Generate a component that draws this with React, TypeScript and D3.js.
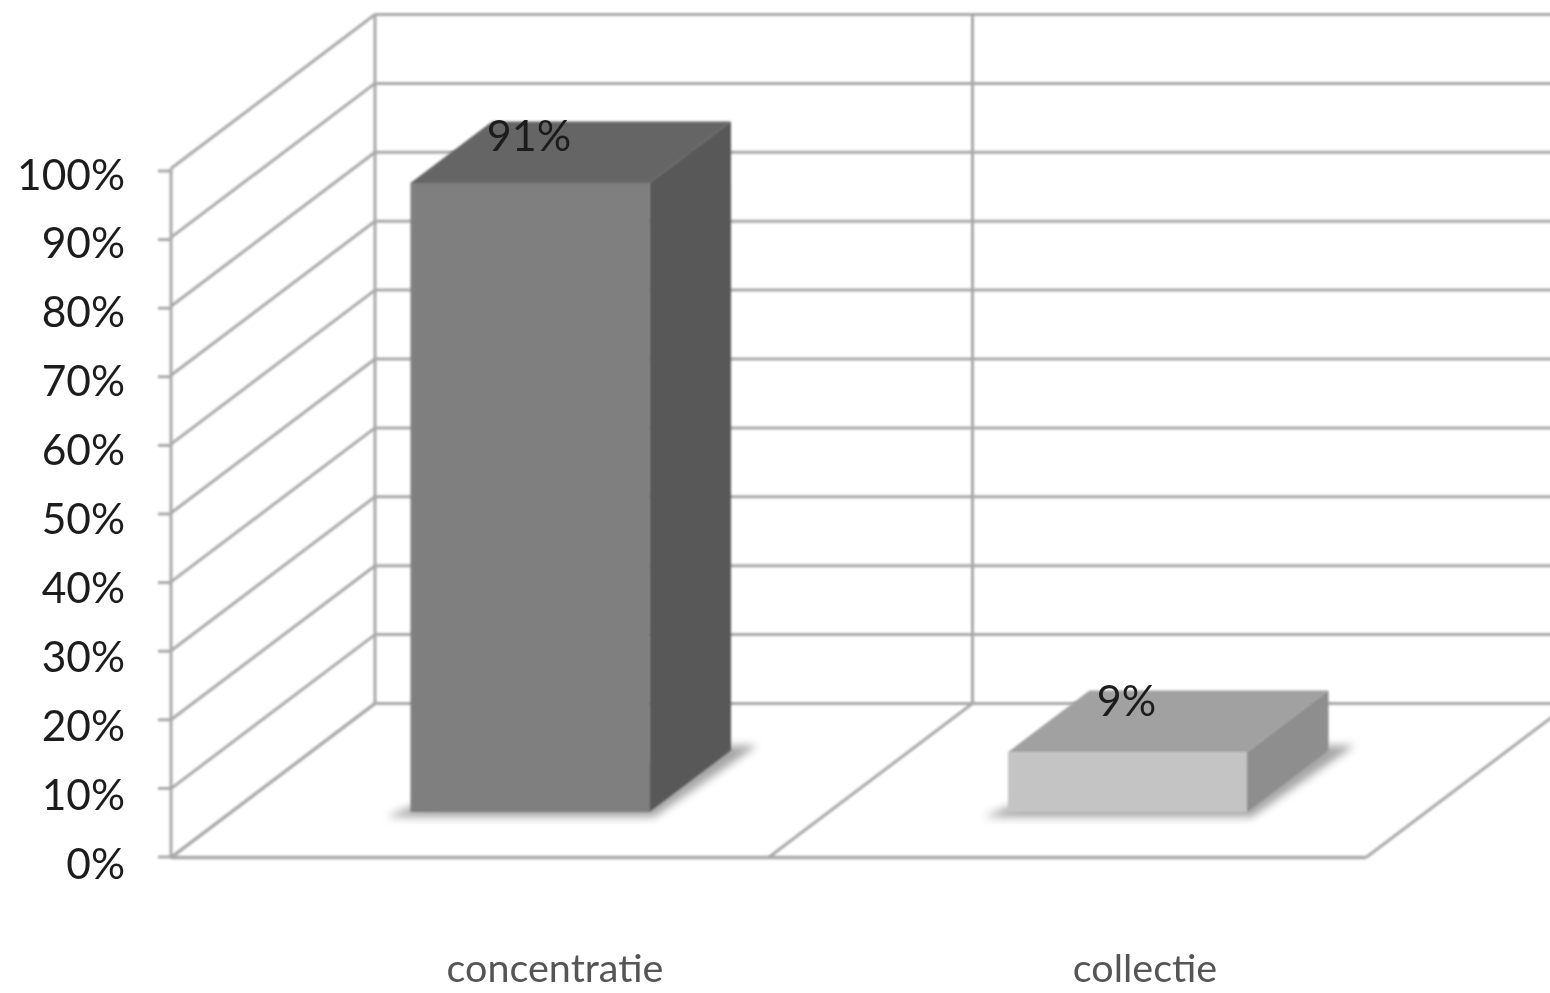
import React from "react";
import * as d3 from "d3";

const categories = ["concentratie", "collectie"];
const shares = [0.913, 0.087];
const frontColors = ["#7f7f7f", "#c4c4c4"];
const topColors = ["#656565", "#a1a1a1"];
const sideColors = ["#595959", "#8e8e8e"];
const yTicks = [0, 0.1, 0.2, 0.3, 0.4, 0.5, 0.6, 0.7, 0.8, 0.9, 1];

const W = 1550, H = 993;
const y = d3.scaleLinear().domain([0, 1]).range([857.5, 168.5]);
const tickY = d3.scaleLinear().domain([0, 1]).range([857, 171]);
const x = d3.scaleBand<string>().domain(categories).range([171, 1366]).paddingInner(0.6).paddingOuter(0.3);
const depthX = d3.scaleLinear().domain([0, 1]).range([0, 204]);
const depthY = d3.scaleLinear().domain([0, 1]).range([0, -154]);
const catLabelX = d3.scalePoint<string>().domain(categories).range([555, 1145]);
const labelY = d3.scaleLinear().domain([0.087, 0.913]).range([716, 151]);
const pct = d3.format(".0%");
const line = d3.line();
const GRID = "#a9a9a9";

// project (front-plane x, value, depth) to the screen
const P = (px: number, v: number, d: number): [number, number] => [px + depthX(d), y(v) + depthY(d)];
const poly = (pts: [number, number][]) => line(pts) + "Z";

const BAR_D0 = 0.295, BAR_D1 = 0.695;
const FONT = "Lato, 'Open Sans', sans-serif";

export default function App() {
  const floorXs = [171, 171 + x.step(), 1366];
  const backXs = [171, 171 + x.step()];
  const bw = x.bandwidth();
  return (
    <svg width={W} height={H} viewBox={`0 0 ${W} ${H}`} style={{ position: "absolute", left: 0, top: 0, background: "#fff" }}>
      <defs>
        <filter id="soft" x="-5%" y="-5%" width="110%" height="110%"><feGaussianBlur stdDeviation="0.8" /></filter>
        <filter id="shadow" x="-20%" y="-20%" width="140%" height="140%"><feGaussianBlur stdDeviation="4" /></filter>
        <filter id="softText" x="-5%" y="-5%" width="110%" height="110%"><feGaussianBlur stdDeviation="0.5" /></filter>
      </defs>
      <g filter="url(#soft)">
        {/* back wall grid */}
        {yTicks.map(t => (
          <path key={t} d={line([P(171, t, 1), [W + 5, y(t) + depthY(1)]]) as string} stroke={GRID} strokeWidth={3} fill="none" />
        ))}
        {backXs.map(px => (
          <path key={px} d={line([P(px, 0, 1), P(px, 1, 1)]) as string} stroke={GRID} strokeWidth={3} fill="none" />
        ))}
        {/* left wall */}
        {yTicks.map(t => (
          <path key={t} d={line([P(171, t, 0), P(171, t, 1)]) as string} stroke={GRID} strokeWidth={3} fill="none" />
        ))}
        <path d={line([P(171, 0, 0), P(171, 1, 0)]) as string} stroke={GRID} strokeWidth={3} fill="none" />
        {yTicks.map(t => (
          <path key={t} d={line([[158, tickY(t)], [171, tickY(t)]]) as string} stroke={GRID} strokeWidth={3} fill="none" />
        ))}
        {/* floor */}
        {floorXs.map(px => (
          <path key={px} d={line([P(px, 0, 0), P(px, 0, 1)]) as string} stroke={GRID} strokeWidth={3} fill="none" />
        ))}
        <path d={line([P(171, 0, 0), P(1366, 0, 0)]) as string} stroke={GRID} strokeWidth={3.5} fill="none" />
      </g>

      {/* bars */}
      {categories.map((c, i) => {
        const x0 = x(c) as number, x1 = x0 + bw, v = shares[i];
        const shadow: [number, number][] = [
          [P(x0, 0, BAR_D0)[0] - 24, P(x0, 0, BAR_D0)[1] + 5],
          [P(x1, 0, BAR_D0)[0] + 5, P(x1, 0, BAR_D0)[1] + 5],
          [P(x1, 0, BAR_D1)[0] + 26, P(x1, 0, BAR_D1)[1] - 5],
          [P(x1, 0, BAR_D1)[0], P(x1, 0, BAR_D1)[1] - 5],
          [P(x0, 0, BAR_D0)[0], P(x0, 0, BAR_D0)[1] - 5],
        ];
        return (
          <g key={c}>
            <path d={poly(shadow)} fill="#808080" opacity={0.7} filter="url(#shadow)" />
            <g filter="url(#soft)">
              <path d={poly([P(x0, v, BAR_D0), P(x1, v, BAR_D0), P(x1, v, BAR_D1), P(x0, v, BAR_D1)])} fill={topColors[i]} />
              <path d={poly([P(x1, 0, BAR_D0), P(x1, v, BAR_D0), P(x1, v, BAR_D1), P(x1, 0, BAR_D1)])} fill={sideColors[i]} />
              <path d={poly([P(x0, 0, BAR_D0), P(x1, 0, BAR_D0), P(x1, v, BAR_D0), P(x0, v, BAR_D0)])} fill={frontColors[i]} />
            </g>
            <text x={P(x0 + bw / 2, 0, BAR_D0)[0] - 1} y={labelY(v)} textAnchor="middle" fontFamily={FONT} fontSize={43} fill="#1c1c1c" filter="url(#softText)">
              {pct(v)}
            </text>
            <text x={catLabelX(c)} y={982} textAnchor="middle" fontFamily={FONT} fontSize={39.5} fill="#555" filter="url(#softText)">
              {c}
            </text>
          </g>
        );
      })}

      {/* y tick labels */}
      {yTicks.map(t => (
        <text key={t} x={125} y={y(t) + 21} textAnchor="end" fontFamily={FONT} fontSize={42.5} fill="#1c1c1c" filter="url(#softText)">
          {pct(t)}
        </text>
      ))}
    </svg>
  );
}
